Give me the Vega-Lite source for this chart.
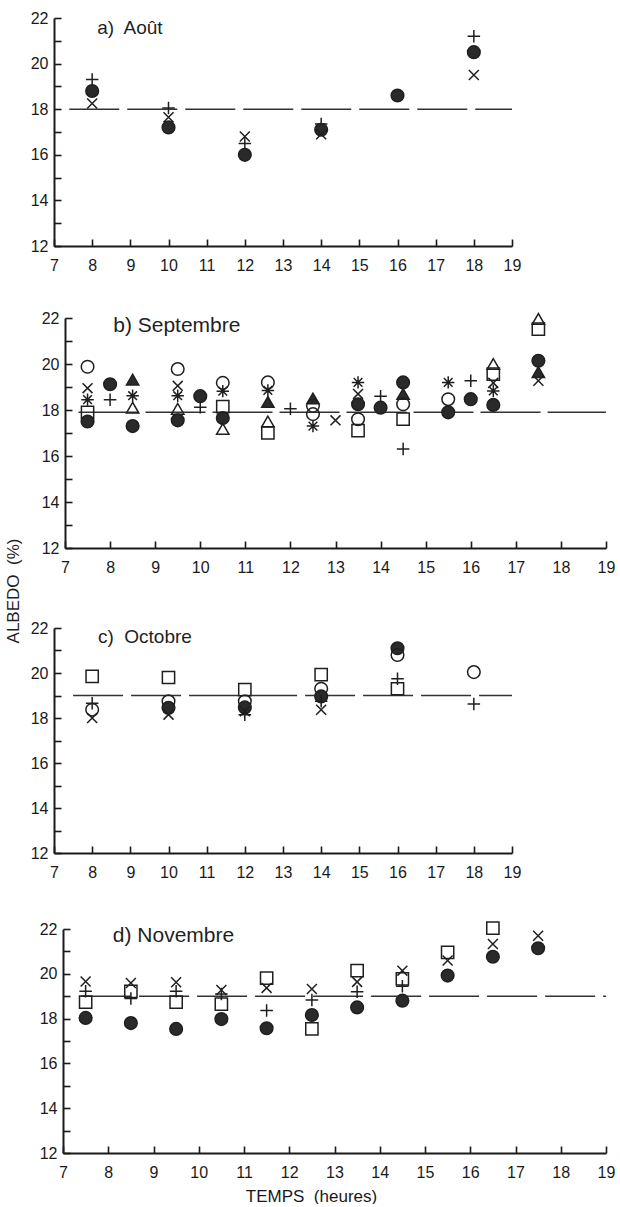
{
  "$schema": "https://vega.github.io/schema/vega-lite/v6.json",
  "background": "white",
  "padding": {"left": 5, "top": 10, "right": 0, "bottom": 0},
  "title": {"text": "ALBEDO\u00a0 (%)", "orient": "left", "anchor": "middle", "fontSize": 17, "font": "Liberation Sans", "fontWeight": "normal", "color": "#1f1f1f", "offset": 7, "dx": 16},
  "config": {
    "view": {"stroke": null},
    "title": {"fontSize": 17, "fontWeight": "normal"},
    "axis": {"domainColor": "#1a1a1a", "domainWidth": 2, "tickColor": "#1a1a1a", "tickWidth": 1.6, "tickSize": -7, "labelFont": "Liberation Sans Narrow, Liberation Sans", "labelFontSize": 16, "labelColor": "#1a1a1a", "grid": false, "labelFlush": false, "titleFont": "Liberation Sans", "titleFontWeight": "normal", "titleFontSize": 17, "titleColor": "#1a1a1a"},
    "axisX": {"labelPadding": 18, "labelAngle": 0},
    "axisY": {"labelPadding": 13}
  },
  "bounds": "full",
  "spacing": 37,
  "datasets": {
    "a": [
      {"h": 8, "v": 19.3, "s": "P"}, {"h": 8, "v": 18.8, "s": "D"}, {"h": 8, "v": 18.25, "s": "X"},
      {"h": 10, "v": 18.05, "s": "P"}, {"h": 10, "v": 17.65, "s": "X"}, {"h": 10, "v": 17.2, "s": "D"},
      {"h": 12, "v": 16.8, "s": "X"}, {"h": 12, "v": 16.5, "s": "P"}, {"h": 12, "v": 16.0, "s": "D"},
      {"h": 14, "v": 17.35, "s": "P"}, {"h": 14, "v": 17.1, "s": "D"}, {"h": 14, "v": 16.9, "s": "X"},
      {"h": 16, "v": 18.6, "s": "D"},
      {"h": 18, "v": 21.2, "s": "P"}, {"h": 18, "v": 20.5, "s": "D"}, {"h": 18, "v": 19.5, "s": "X"}
    ],
    "b": [
      {"h": 7.5, "v": 19.88, "s": "O"}, {"h": 7.5, "v": 18.95, "s": "X"}, {"h": 7.5, "v": 18.45, "s": "A"}, {"h": 7.5, "v": 17.9, "s": "S"}, {"h": 7.5, "v": 17.5, "s": "D"},
      {"h": 8, "v": 19.12, "s": "D"}, {"h": 8, "v": 18.45, "s": "P"},
      {"h": 8.5, "v": 19.32, "s": "F"}, {"h": 8.5, "v": 18.62, "s": "A"}, {"h": 8.5, "v": 18.1, "s": "T"}, {"h": 8.5, "v": 17.3, "s": "D"},
      {"h": 9.5, "v": 19.78, "s": "O"}, {"h": 9.5, "v": 19.05, "s": "X"}, {"h": 9.5, "v": 18.62, "s": "A"}, {"h": 9.5, "v": 18.05, "s": "T"}, {"h": 9.5, "v": 17.55, "s": "D"},
      {"h": 10, "v": 18.6, "s": "D"}, {"h": 10, "v": 18.12, "s": "P"},
      {"h": 10.5, "v": 19.18, "s": "O"}, {"h": 10.5, "v": 18.82, "s": "A"}, {"h": 10.5, "v": 18.15, "s": "S"}, {"h": 10.5, "v": 17.65, "s": "D"}, {"h": 10.5, "v": 17.18, "s": "T"},
      {"h": 11.5, "v": 19.2, "s": "O"}, {"h": 11.5, "v": 18.85, "s": "A"}, {"h": 11.5, "v": 18.35, "s": "F"}, {"h": 11.5, "v": 17.5, "s": "T"}, {"h": 11.5, "v": 17.0, "s": "S"},
      {"h": 12, "v": 18.05, "s": "P"},
      {"h": 12.5, "v": 18.5, "s": "F"}, {"h": 12.5, "v": 18.18, "s": "O"}, {"h": 12.5, "v": 17.82, "s": "O"}, {"h": 12.5, "v": 17.3, "s": "A"},
      {"h": 13, "v": 17.55, "s": "X"},
      {"h": 13.5, "v": 19.2, "s": "A"}, {"h": 13.5, "v": 18.7, "s": "X"}, {"h": 13.5, "v": 18.25, "s": "D"}, {"h": 13.5, "v": 17.6, "s": "O"}, {"h": 13.5, "v": 17.1, "s": "S"},
      {"h": 14, "v": 18.6, "s": "P"}, {"h": 14, "v": 18.1, "s": "D"},
      {"h": 14.5, "v": 19.2, "s": "D"}, {"h": 14.5, "v": 18.7, "s": "F"}, {"h": 14.5, "v": 18.25, "s": "O"}, {"h": 14.5, "v": 17.6, "s": "S"}, {"h": 14.5, "v": 16.3, "s": "P"},
      {"h": 15.5, "v": 19.2, "s": "A"}, {"h": 15.5, "v": 18.47, "s": "O"}, {"h": 15.5, "v": 17.9, "s": "D"},
      {"h": 16, "v": 19.27, "s": "P"}, {"h": 16, "v": 18.47, "s": "D"},
      {"h": 16.5, "v": 20.0, "s": "T"}, {"h": 16.5, "v": 19.56, "s": "S"}, {"h": 16.5, "v": 19.18, "s": "X"}, {"h": 16.5, "v": 18.83, "s": "A"}, {"h": 16.5, "v": 18.22, "s": "D"},
      {"h": 17.5, "v": 21.96, "s": "T"}, {"h": 17.5, "v": 21.52, "s": "S"}, {"h": 17.5, "v": 20.14, "s": "D"}, {"h": 17.5, "v": 19.65, "s": "F"}, {"h": 17.5, "v": 19.27, "s": "X"}
    ],
    "c": [
      {"h": 8, "v": 19.85, "s": "S"}, {"h": 8, "v": 18.66, "s": "P"}, {"h": 8, "v": 18.37, "s": "O"}, {"h": 8, "v": 18.0, "s": "X"},
      {"h": 10, "v": 19.8, "s": "S"}, {"h": 10, "v": 18.74, "s": "O"}, {"h": 10, "v": 18.45, "s": "D"}, {"h": 10, "v": 18.15, "s": "X"},
      {"h": 12, "v": 19.26, "s": "S"}, {"h": 12, "v": 18.74, "s": "O"}, {"h": 12, "v": 18.47, "s": "D"}, {"h": 12, "v": 18.3, "s": "X"}, {"h": 12, "v": 18.15, "s": "P"},
      {"h": 14, "v": 19.93, "s": "S"}, {"h": 14, "v": 19.3, "s": "O"}, {"h": 14, "v": 18.96, "s": "D"}, {"h": 14, "v": 18.74, "s": "P"}, {"h": 14, "v": 18.37, "s": "X"},
      {"h": 16, "v": 21.1, "s": "D"}, {"h": 16, "v": 20.8, "s": "O"}, {"h": 16, "v": 19.74, "s": "P"}, {"h": 16, "v": 19.3, "s": "S"},
      {"h": 18, "v": 20.04, "s": "O"}, {"h": 18, "v": 18.62, "s": "P"}
    ],
    "d": [
      {"h": 7.5, "v": 19.66, "s": "X"}, {"h": 7.5, "v": 19.22, "s": "P"}, {"h": 7.5, "v": 18.73, "s": "S"}, {"h": 7.5, "v": 18.03, "s": "D"},
      {"h": 8.5, "v": 19.59, "s": "X"}, {"h": 8.5, "v": 19.22, "s": "S"}, {"h": 8.5, "v": 18.9, "s": "P"}, {"h": 8.5, "v": 17.8, "s": "D"},
      {"h": 9.5, "v": 19.62, "s": "X"}, {"h": 9.5, "v": 19.22, "s": "P"}, {"h": 9.5, "v": 18.73, "s": "S"}, {"h": 9.5, "v": 17.54, "s": "D"},
      {"h": 10.5, "v": 19.28, "s": "X"}, {"h": 10.5, "v": 19.1, "s": "P"}, {"h": 10.5, "v": 18.65, "s": "S"}, {"h": 10.5, "v": 17.98, "s": "D"},
      {"h": 11.5, "v": 19.81, "s": "S"}, {"h": 11.5, "v": 19.37, "s": "X"}, {"h": 11.5, "v": 18.36, "s": "P"}, {"h": 11.5, "v": 17.57, "s": "D"},
      {"h": 12.5, "v": 19.32, "s": "X"}, {"h": 12.5, "v": 18.83, "s": "P"}, {"h": 12.5, "v": 18.16, "s": "D"}, {"h": 12.5, "v": 17.54, "s": "S"},
      {"h": 13.5, "v": 20.14, "s": "S"}, {"h": 13.5, "v": 19.64, "s": "X"}, {"h": 13.5, "v": 19.2, "s": "P"}, {"h": 13.5, "v": 18.5, "s": "D"},
      {"h": 14.5, "v": 20.14, "s": "X"}, {"h": 14.5, "v": 19.77, "s": "S"}, {"h": 14.5, "v": 19.44, "s": "P"}, {"h": 14.5, "v": 18.8, "s": "D"},
      {"h": 15.5, "v": 20.96, "s": "S"}, {"h": 15.5, "v": 20.59, "s": "X"}, {"h": 15.5, "v": 19.92, "s": "D"},
      {"h": 16.5, "v": 22.04, "s": "S"}, {"h": 16.5, "v": 21.33, "s": "X"}, {"h": 16.5, "v": 20.76, "s": "D"},
      {"h": 17.5, "v": 21.7, "s": "X"}, {"h": 17.5, "v": 21.14, "s": "D"}
    ]
  },
  "vconcat": [
    {
      "width": 458, "height": 228,
      "encoding": {
        "x": {"field": "h", "type": "quantitative", "scale": {"domain": [7, 19], "nice": false, "zero": false}, "axis": {"values": [7,8,9,10,11,12,13,14,15,16,17,18,19], "title": null}},
        "y": {"field": "v", "type": "quantitative", "scale": {"domain": [12, 22], "nice": false, "zero": false}, "axis": {"values": [12,13,14,15,16,17,18,19,20,21,22], "labelExpr": "datum.value % 2 === 0 ? datum.label : ''", "title": null}}
      },
      "layer": [
        {"data": {"values": [{"h": 7.4, "h2": 19, "v": 18}]}, "mark": {"type": "rule", "strokeDash": [50, 8], "strokeWidth": 1.6, "color": "#333"}, "encoding": {"x2": {"field": "h2"}}},
        {"data": {"values": [{"h": 8.13, "v": 21.56, "t": "a)\u00a0 Août"}]}, "mark": {"type": "text", "align": "left", "baseline": "middle", "fontSize": 19, "font": "Liberation Sans", "color": "#1f1f1f"}, "encoding": {"text": {"field": "t"}}},
        {"data": {"name": "a"}, "mark": {"type": "point", "filled": false, "stroke": "#1f1f1f", "strokeWidth": 1.5, "opacity": 1},
         "encoding": {
           "shape": {"field": "s", "type": "nominal", "legend": null, "scale": {"domain": ["D","O","P","X","A","T","F","S"], "range": ["circle","circle","M-1,0L1,0M0,-1L0,1","M-0.8,-0.8L0.8,0.8M-0.8,0.8L0.8,-0.8","M-1,0L1,0M0,-1L0,1M-0.7,-0.7L0.7,0.7M-0.7,0.7L0.7,-0.7","triangle-up","triangle-up","square"]}},
           "fill": {"field": "s", "type": "nominal", "legend": null, "scale": {"domain": ["D","O","P","X","A","T","F","S"], "range": ["#2a2a2a","transparent","transparent","transparent","transparent","transparent","#2a2a2a","transparent"]}},
           "size": {"field": "s", "type": "nominal", "legend": null, "scale": {"domain": ["D","O","P","X","A","T","F","S"], "range": [160,150,130,130,110,150,150,120]}}
         }}
      ]
    },
    {
      "width": 552, "height": 230,
      "encoding": {
        "x": {"field": "h", "type": "quantitative", "scale": {"domain": [7, 19], "nice": false, "zero": false, "range": [11, 552]}, "axis": {"values": [7,8,9,10,11,12,13,14,15,16,17,18,19], "title": null, "minExtent": 35}},
        "y": {"field": "v", "type": "quantitative", "scale": {"domain": [12, 22], "nice": false, "zero": false}, "axis": {"values": [12,13,14,15,16,17,18,19,20,21,22], "labelExpr": "datum.value % 2 === 0 ? datum.label : ''", "title": null, "offset": -11}}
      },
      "layer": [
        {"data": {"values": [{"h": 7.3, "h2": 19, "v": 17.9}]}, "mark": {"type": "rule", "strokeDash": [60, 7], "strokeWidth": 1.6, "color": "#333"}, "encoding": {"x2": {"field": "h2"}}},
        {"data": {"values": [{"h": 8.07, "v": 21.66, "t": "b) Septembre"}]}, "mark": {"type": "text", "align": "left", "baseline": "middle", "fontSize": 21, "font": "Liberation Sans", "color": "#1f1f1f"}, "encoding": {"text": {"field": "t"}}},
        {"data": {"name": "b"}, "mark": {"type": "point", "filled": false, "stroke": "#1f1f1f", "strokeWidth": 1.5, "opacity": 1},
         "encoding": {
           "shape": {"field": "s", "type": "nominal", "legend": null, "scale": {"domain": ["D","O","P","X","A","T","F","S"], "range": ["circle","circle","M-1,0L1,0M0,-1L0,1","M-0.8,-0.8L0.8,0.8M-0.8,0.8L0.8,-0.8","M-1,0L1,0M0,-1L0,1M-0.7,-0.7L0.7,0.7M-0.7,0.7L0.7,-0.7","triangle-up","triangle-up","square"]}},
           "fill": {"field": "s", "type": "nominal", "legend": null, "scale": {"domain": ["D","O","P","X","A","T","F","S"], "range": ["#2a2a2a","transparent","transparent","transparent","transparent","transparent","#2a2a2a","transparent"]}},
           "size": {"field": "s", "type": "nominal", "legend": null, "scale": {"domain": ["D","O","P","X","A","T","F","S"], "range": [160,150,130,130,110,150,150,120]}}
         }}
      ]
    },
    {
      "width": 458, "height": 225,
      "encoding": {
        "x": {"field": "h", "type": "quantitative", "scale": {"domain": [7, 19], "nice": false, "zero": false}, "axis": {"values": [7,8,9,10,11,12,13,14,15,16,17,18,19], "title": null, "minExtent": 28}},
        "y": {"field": "v", "type": "quantitative", "scale": {"domain": [12, 22], "nice": false, "zero": false}, "axis": {"values": [12,13,14,15,16,17,18,19,20,21,22], "labelExpr": "datum.value % 2 === 0 ? datum.label : ''", "title": null}}
      },
      "layer": [
        {"data": {"values": [{"h": 7.5, "h2": 19, "v": 19}]}, "mark": {"type": "rule", "strokeDash": [50, 8], "strokeWidth": 1.6, "color": "#333"}, "encoding": {"x2": {"field": "h2"}}},
        {"data": {"values": [{"h": 8.15, "v": 21.59, "t": "c)\u00a0 Octobre"}]}, "mark": {"type": "text", "align": "left", "baseline": "middle", "fontSize": 19, "font": "Liberation Sans", "color": "#1f1f1f"}, "encoding": {"text": {"field": "t"}}},
        {"data": {"name": "c"}, "mark": {"type": "point", "filled": false, "stroke": "#1f1f1f", "strokeWidth": 1.5, "opacity": 1},
         "encoding": {
           "shape": {"field": "s", "type": "nominal", "legend": null, "scale": {"domain": ["D","O","P","X","A","T","F","S"], "range": ["circle","circle","M-1,0L1,0M0,-1L0,1","M-0.8,-0.8L0.8,0.8M-0.8,0.8L0.8,-0.8","M-1,0L1,0M0,-1L0,1M-0.7,-0.7L0.7,0.7M-0.7,0.7L0.7,-0.7","triangle-up","triangle-up","square"]}},
           "fill": {"field": "s", "type": "nominal", "legend": null, "scale": {"domain": ["D","O","P","X","A","T","F","S"], "range": ["#2a2a2a","transparent","transparent","transparent","transparent","transparent","#2a2a2a","transparent"]}},
           "size": {"field": "s", "type": "nominal", "legend": null, "scale": {"domain": ["D","O","P","X","A","T","F","S"], "range": [160,150,130,130,110,150,150,120]}}
         }}
      ]
    },
    {
      "width": 552, "height": 224,
      "encoding": {
        "x": {"field": "h", "type": "quantitative", "scale": {"domain": [7, 19], "nice": false, "zero": false, "range": [9, 552]}, "axis": {"values": [7,8,9,10,11,12,13,14,15,16,17,18,19], "title": "TEMPS\u00a0 (heures)", "titleX": 257, "titleY": 43, "titleAlign": "center", "titleBaseline": "middle"}},
        "y": {"field": "v", "type": "quantitative", "scale": {"domain": [12, 22], "nice": false, "zero": false}, "axis": {"values": [12,13,14,15,16,17,18,19,20,21,22], "labelExpr": "datum.value % 2 === 0 ? datum.label : ''", "title": null, "offset": -9}}
      },
      "layer": [
        {"data": {"values": [{"h": 7.4, "h2": 19, "v": 19}]}, "mark": {"type": "rule", "strokeDash": [50, 8], "strokeWidth": 1.6, "color": "#333"}, "encoding": {"x2": {"field": "h2"}}},
        {"data": {"values": [{"h": 8.1, "v": 21.7, "t": "d) Novembre"}]}, "mark": {"type": "text", "align": "left", "baseline": "middle", "fontSize": 21, "font": "Liberation Sans", "color": "#1f1f1f"}, "encoding": {"text": {"field": "t"}}},
        {"data": {"name": "d"}, "mark": {"type": "point", "filled": false, "stroke": "#1f1f1f", "strokeWidth": 1.5, "opacity": 1},
         "encoding": {
           "shape": {"field": "s", "type": "nominal", "legend": null, "scale": {"domain": ["D","O","P","X","A","T","F","S"], "range": ["circle","circle","M-1,0L1,0M0,-1L0,1","M-0.8,-0.8L0.8,0.8M-0.8,0.8L0.8,-0.8","M-1,0L1,0M0,-1L0,1M-0.7,-0.7L0.7,0.7M-0.7,0.7L0.7,-0.7","triangle-up","triangle-up","square"]}},
           "fill": {"field": "s", "type": "nominal", "legend": null, "scale": {"domain": ["D","O","P","X","A","T","F","S"], "range": ["#2a2a2a","transparent","transparent","transparent","transparent","transparent","#2a2a2a","transparent"]}},
           "size": {"field": "s", "type": "nominal", "legend": null, "scale": {"domain": ["D","O","P","X","A","T","F","S"], "range": [160,150,130,130,110,150,150,120]}}
         }}
      ]
    }
  ]
}
